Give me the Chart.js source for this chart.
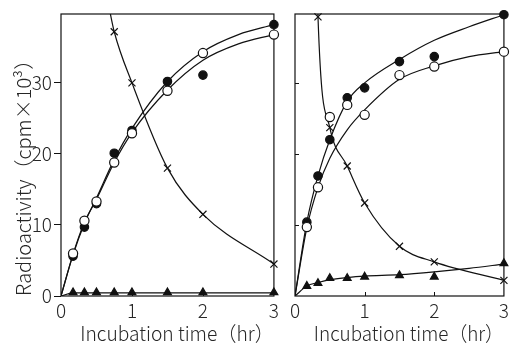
<!DOCTYPE html>
<html>
<head>
<meta charset="utf-8">
<script src="https://cdn.jsdelivr.net/npm/chart.js@4/dist/chart.umd.min.js"></script>
<style>
	html, body { margin: 0; padding: 0; background: #fff; }
	#wrap { position: relative; width: 512px; height: 343px; overflow: hidden; }
	.panel { position: absolute; top: 0; height: 343px; }
	#left { left: 0; width: 282px; }
	#right { left: 282px; width: 230px; }
</style>
</head>
<body>
<div id="wrap">
	<div class="panel" id="left"><canvas id="left_chart"></canvas></div>
	<div class="panel" id="right"><canvas id="right_chart"></canvas></div>
</div>
<script>
// Sampling times (hr) of the measured points.
const times = [0.17, 0.33, 0.5, 0.75, 1, 1.5, 2, 3];

// Left panel measurements (cpm x 10^3).
const leftClosed = [5.6, 9.7, 13.0, 20.1, 23.3, 30.2, 31.1, 38.2];
const leftOpen = [6.0, 10.6, 13.3, 18.8, 22.9, 28.9, 34.2, 36.8];
const leftCross = [null, null, null, 37.2, 30.0, 18.0, 11.5, 4.5];
const leftTri = [0.5, 0.5, 0.5, 0.5, 0.5, 0.5, 0.5, 0.5];

// Right panel measurements (cpm x 10^3).
const rightClosed = [10.4, 16.9, 22.0, 27.9, 29.3, 33.0, 33.7, 39.6];
const rightOpen = [9.7, 15.3, 25.2, 26.9, 25.5, 31.1, 32.3, 34.4];
const rightCross = [null, 39.3, 23.7, 18.3, 13.1, 7.0, 4.8, 2.2];
const rightTri = [1.4, 1.8, 2.5, 2.5, 2.7, 2.9, 2.7, 4.6];

// Hand-drawn fitted curves.
const fitTimes = [0, 0.17, 0.33, 0.5, 0.75, 1, 1.5, 2, 2.5, 3];
const leftClosedFit = [0, 5.8, 10.2, 13.8, 19.2, 23.6, 30.2, 34.4, 36.8, 38.2];
const leftOpenFit = [0, 5.9, 10.4, 13.6, 18.8, 23.0, 29.0, 33.2, 35.5, 36.8];
const leftTriFit = [0, 0.45, 0.45, 0.45, 0.45, 0.45, 0.45, 0.45, 0.45, 0.45];
const rightClosedFit = [0, 10.4, 16.9, 22.0, 27.4, 30.0, 33.3, 36.0, 37.9, 39.6];
const rightOpenFit = [0, 9.6, 15.3, 19.4, 23.4, 26.2, 30.5, 32.4, 33.7, 34.4];
const rightTriFit = [0, 1.4, 1.9, 2.3, 2.6, 2.8, 3.0, 3.4, 3.9, 4.5];

// The falling (x) curves run off the top of each panel.
const leftCrossFitTimes = [0.66, 0.75, 1, 1.5, 2, 3];
const leftCrossFit = [41.5, 37.2, 30.0, 18.0, 11.5, 4.5];
const rightCrossFitTimes = [0.32, 0.33, 0.5, 0.75, 1, 1.5, 2, 3];
const rightCrossFit = [45, 39.3, 23.7, 18.3, 13.1, 7.0, 4.8, 2.2];

const xTickValues = [0, 1, 2, 3];
const yTickValues = [0, 10, 20, 30];
const Y_MAX = 39.7;

const INK = '#111';
const TEXT = '#262626';
const FONT = '"Noto Sans CJK JP", "DejaVu Sans", sans-serif';

Chart.defaults.font.family = FONT;
Chart.defaults.color = TEXT;

function toPoints(xs, ys) {
	return xs.map((x, i) => ({ x: x, y: ys[i] })).filter(p => p.y !== null);
}

function curve(xs, ys) {
	return {
		data: toPoints(xs, ys),
		showLine: true,
		borderColor: INK,
		borderWidth: 1.2,
		pointRadius: 0,
		cubicInterpolationMode: 'monotone',
		order: 10,
	};
}

function marks(ys, style, filled, radius, order) {
	return {
		data: toPoints(times, ys),
		showLine: false,
		pointStyle: style,
		pointRadius: radius,
		pointBorderColor: INK,
		pointBorderWidth: 1.2,
		pointBackgroundColor: filled ? INK : '#fff',
		clip: false,
		order: order,
	};
}

// Box round the plot area, plus small inward ticks.
const framePlugin = {
	id: 'frame',
	beforeDatasetsDraw(chart, args, opts) {
		const { ctx, chartArea: a, scales } = chart;
		ctx.save();
		ctx.strokeStyle = INK;
		ctx.lineWidth = 1.2;
		ctx.strokeRect(a.left, a.top, a.right - a.left, a.bottom - a.top);
		ctx.lineWidth = 1;
		ctx.beginPath();
		xTickValues.slice(1, -1).forEach(v => {
			const x = Math.round(scales.x.getPixelForValue(v)) + 0.5;
			ctx.moveTo(x, a.bottom);
			ctx.lineTo(x, a.bottom - 4);
		});
		if (opts.innerY) {
			yTickValues.slice(1).forEach(v => {
				const y = Math.round(scales.y.getPixelForValue(v)) + 0.5;
				ctx.moveTo(a.left, y);
				ctx.lineTo(a.left + 4, y);
			});
		}
		ctx.stroke();
		ctx.restore();
	}
};

function xScale(height) {
	return {
		type: 'linear',
		min: 0,
		max: 3,
		afterBuildTicks: s => { s.ticks = xTickValues.map(v => ({ value: v })); },
		afterFit: s => { s.height = height; },
		ticks: { font: { size: 19, weight: '300' }, padding: 3, color: TEXT },
		grid: { drawOnChartArea: false, drawTicks: false },
		border: { display: false },
		title: {
			display: true,
			// leading ideographic space nudges the centred text right, as in the figure
			text: '\u3000Incubation time（hr）',
			font: { size: 20, weight: '300', lineHeight: 1 },
			padding: { top: 0, bottom: 0 },
			color: TEXT,
		},
	};
}

function initCharts() {
	const leftCtx = document.getElementById('left_chart').getContext('2d');
	new Chart(leftCtx, {
		type: 'scatter',
		data: {
			datasets: [
				curve(fitTimes, leftClosedFit),
				curve(fitTimes, leftOpenFit),
				curve(fitTimes, leftTriFit),
				curve(leftCrossFitTimes, leftCrossFit),
				marks(leftClosed, 'circle', true, 4.2, 3),
				marks(leftCross, 'crossRot', false, 5, 2),
				marks(leftTri, 'triangle', true, 4.5, 2),
				marks(leftOpen, 'circle', false, 4.6, 1),
			]
		},
		options: {
			responsive: true,
			maintainAspectRatio: false,
			animation: false,
			layout: { padding: { top: 14, right: 8, left: 0, bottom: 0 } },
			scales: {
				x: xScale(47),
				y: {
					type: 'linear',
					min: 0,
					max: Y_MAX,
					afterBuildTicks: s => { s.ticks = yTickValues.map(v => ({ value: v })); },
					afterFit: s => { s.width = 61; },
					ticks: { font: { size: 19, weight: '300' }, padding: 2, color: TEXT },
					grid: { drawOnChartArea: false, tickLength: 7, color: INK },
					border: { display: false },
					title: {
						display: true,
						text: 'Radioactivity（cpm×10³）',
						align: 'start',
						font: { size: 20, weight: '300', lineHeight: 1 },
						padding: { top: 13, bottom: 0 },
						color: TEXT,
					},
				}
			},
			plugins: {
				legend: { display: false },
				tooltip: { enabled: false },
				frame: { innerY: false },
			}
		},
		plugins: [framePlugin]
	});

	const rightCtx = document.getElementById('right_chart').getContext('2d');
	new Chart(rightCtx, {
		type: 'scatter',
		data: {
			datasets: [
				curve(fitTimes, rightClosedFit),
				curve(fitTimes, rightOpenFit),
				curve(fitTimes, rightTriFit),
				curve(rightCrossFitTimes, rightCrossFit),
				marks(rightClosed, 'circle', true, 4.2, 3),
				marks(rightCross, 'crossRot', false, 5, 2),
				marks(rightTri, 'triangle', true, 4.5, 2),
				marks(rightOpen, 'circle', false, 4.6, 1),
			]
		},
		options: {
			responsive: true,
			maintainAspectRatio: false,
			animation: false,
			layout: { padding: { top: 14, right: 4, left: 13, bottom: 0 } },
			scales: {
				x: xScale(47),
				y: {
					type: 'linear',
					display: false,
					min: 0,
					max: Y_MAX,
				}
			},
			plugins: {
				legend: { display: false },
				tooltip: { enabled: false },
				frame: { innerY: true },
			}
		},
		plugins: [framePlugin]
	});
}

initCharts();
</script>
</body>
</html>
